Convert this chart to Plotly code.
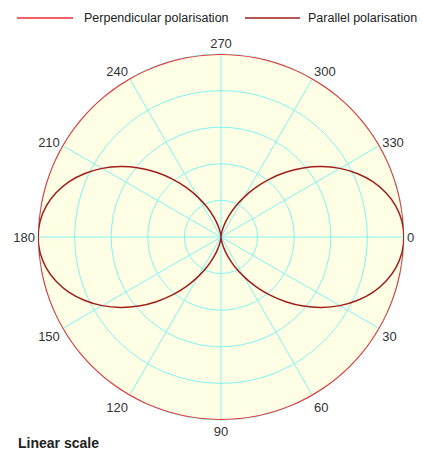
import plotly.graph_objects as go

# Angles in degrees (0..360, step 5)
theta_deg = list(range(0, 365, 5))

# Perpendicular polarisation: constant relative intensity
perp_r = [1.0] * len(theta_deg)

# Parallel polarisation: values
par_quarter = [1.0, 0.992, 0.970, 0.933, 0.883, 0.821, 0.750, 0.671, 0.587,
               0.500, 0.413, 0.329, 0.250, 0.179, 0.117, 0.067, 0.030, 0.008, 0.0]
par_r = (par_quarter + par_quarter[-2::-1] + par_quarter[1:] + par_quarter[-2::-1])

angular_ticks = [0, 30, 60, 90, 120, 150, 180, 210, 240, 270, 300, 330]
angular_labels = [str(t) for t in angular_ticks]

series_names = ["Perpendicular polarisation", "Parallel polarisation"]
series_colors = ["#f52a30", "#a01e1e"]

GRID = "#80f4f2"
fig = go.Figure()
fig.add_trace(go.Scatterpolar(
    r=perp_r, theta=theta_deg, mode="lines", name=series_names[0],
    line=dict(color=series_colors[0], width=2, shape="spline")))
fig.add_trace(go.Scatterpolar(
    r=par_r, theta=theta_deg, mode="lines", name=series_names[1],
    line=dict(color=series_colors[1], width=1.5, shape="spline")))

# Legend drawn as line samples + labels across the top
legend_y = 1 - 18/455
legend_lines = [(17, 73), (245, 300)]
legend_text = [(82, "left"), (419, "right")]
shapes = []
annotations = []
for (x0, x1), (tx, anc), name, col in zip(legend_lines, legend_text, series_names, series_colors):
    shapes.append(dict(type="line", xref="paper", yref="paper", x0=x0/422, x1=x1/422,
                       y0=legend_y, y1=legend_y, line=dict(color=col, width=1.5)))
    annotations.append(dict(text=name, x=tx/422, y=legend_y, xref="paper", yref="paper",
                            xanchor=anc, yanchor="middle", showarrow=False,
                            font=dict(size=12.5, color="#222222")))
annotations.append(dict(text="<b>Linear scale</b>", x=16/422, y=1-443/455, xref="paper",
                        yref="paper", xanchor="left", yanchor="middle", showarrow=False,
                        font=dict(size=14, color="#222222")))

fig.update_layout(
    width=422, height=455,
    margin=dict(l=0, r=0, t=0, b=0),
    paper_bgcolor="white",
    font=dict(family="Liberation Sans, Arial, sans-serif", size=13, color="#333333"),
    showlegend=False,
    polar=dict(
        domain=dict(x=[38/422, 404/422], y=[1-420/455, 1-54/455]),
        bgcolor="#ffffe6",
        radialaxis=dict(range=[0, 1], dtick=0.2, showticklabels=False, ticks="",
                        gridcolor=GRID, gridwidth=1, showline=False, layer="below traces"),
        angularaxis=dict(direction="clockwise", rotation=0,
                         tickmode="array", tickvals=angular_ticks, ticktext=angular_labels,
                         gridcolor=GRID, gridwidth=1, linecolor=GRID, ticks="",
                         layer="below traces",
                         tickfont=dict(size=13, color="#333333")),
    ),
    shapes=shapes,
    annotations=annotations,
)

fig.write_html("out.html", config={"displayModeBar": False},
               post_script="document.body.style.margin='0';")
